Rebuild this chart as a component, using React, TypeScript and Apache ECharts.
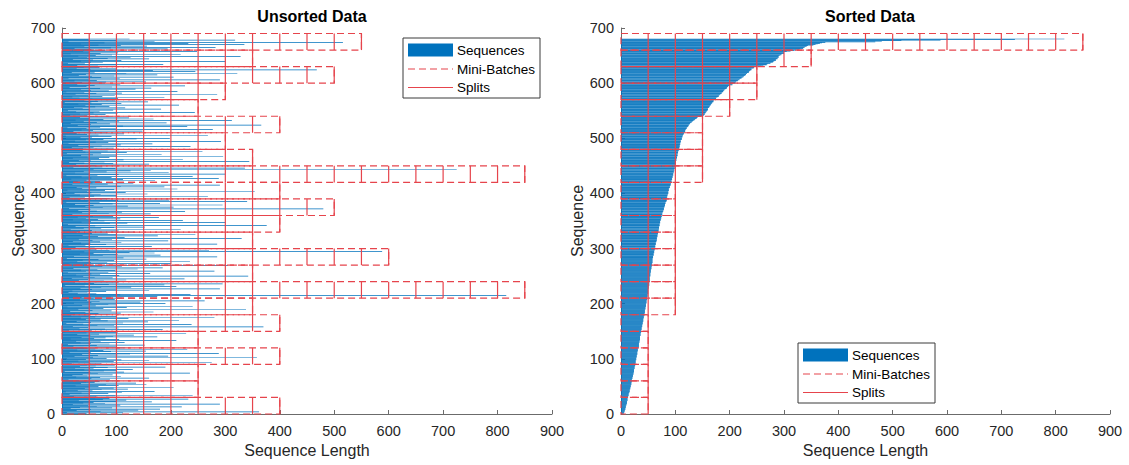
import React, { useEffect, useRef } from "react";
import * as echarts from "echarts";

// Sequence lengths (unsorted), mini-batches of 30, bottom to top
const batch01 = [45, 112, 9, 362, 71, 27, 140, 53, 180, 16, 92, 33, 220, 64, 48, 107, 20, 290, 79, 39, 58, 165, 101, 31, 118, 75, 232, 87, 61, 172];
const batch02 = [63, 22, 98, 240, 14, 51, 85, 36, 110, 7, 170, 56, 29, 73, 121, 42, 95, 205, 50, 67, 25, 104, 155, 81, 35, 136, 60, 44, 69, 103];
const batch03 = [31, 88, 12, 54, 160, 70, 26, 108, 47, 19, 93, 38, 66, 235, 52, 114, 5, 77, 100, 41, 130, 58, 24, 84, 190, 33, 62, 97, 46, 17];
const batch04 = [72, 18, 275, 50, 95, 30, 160, 109, 44, 9, 82, 358, 57, 23, 195, 66, 102, 37, 125, 288, 53, 14, 90, 154, 76, 28, 230, 61, 47, 116];
const batch05 = [40, 99, 21, 64, 152, 11, 87, 53, 34, 115, 71, 26, 210, 49, 105, 16, 59, 80, 36, 175, 94, 52, 132, 28, 68, 228, 45, 102, 6, 74];
const batch06 = [55, 13, 185, 79, 32, 104, 48, 370, 20, 65, 96, 238, 39, 8, 112, 53, 158, 27, 84, 215, 44, 71, 122, 35, 280, 61, 100, 17, 50, 89];
const batch07 = [24, 67, 108, 43, 168, 15, 91, 56, 338, 30, 76, 50, 119, 10, 240, 62, 37, 101, 85, 190, 22, 54, 144, 69, 262, 46, 33, 97, 58, 110];
const batch08 = [36, 90, 175, 52, 816, 107, 236, 63, 29, 12, 47, 81, 19, 160, 99, 55, 290, 34, 72, 127, 210, 42, 6, 188, 86, 295, 59, 24, 104, 68];
const batch09 = [77, 31, 118, 48, 225, 18, 93, 60, 39, 342, 105, 26, 70, 54, 162, 11, 85, 44, 280, 98, 35, 65, 139, 21, 185, 51, 110, 74, 305, 57];
const batch10 = [46, 14, 200, 83, 53, 28, 235, 96, 38, 67, 155, 9, 113, 50, 285, 22, 75, 181, 102, 33, 58, 170, 124, 41, 588, 270, 87, 17, 63, 107];
const batch11 = [60, 25, 97, 165, 43, 12, 81, 285, 52, 35, 109, 70, 20, 195, 56, 92, 31, 330, 48, 115, 7, 66, 176, 38, 101, 245, 55, 84, 27, 133];
const batch12 = [33, 104, 55, 16, 218, 72, 40, 96, 152, 25, 61, 376, 49, 11, 88, 120, 300, 36, 53, 78, 222, 20, 66, 107, 44, 178, 29, 94, 57, 141];
const batch13 = [51, 19, 163, 86, 37, 110, 226, 64, 30, 99, 52, 480, 13, 75, 205, 43, 121, 58, 295, 24, 93, 180, 69, 8, 340, 47, 103, 197, 34, 82];
const batch14 = [88, 42, 14, 268, 59, 101, 33, 71, 157, 23, 54, 117, 46, 354, 79, 10, 96, 212, 37, 63, 27, 188, 108, 50, 290, 19, 84, 131, 56, 68];
const batch15 = [29, 70, 171, 45, 112, 17, 288, 54, 91, 36, 240, 8, 65, 104, 300, 51, 24, 196, 82, 40, 126, 163, 725, 58, 98, 336, 21, 74, 48, 106];
const batch16 = [62, 26, 160, 94, 41, 13, 78, 344, 53, 31, 113, 222, 68, 20, 87, 47, 296, 100, 35, 57, 183, 9, 72, 119, 43, 258, 84, 38, 105, 50];
const batch17 = [39, 95, 18, 58, 236, 73, 30, 108, 49, 166, 12, 85, 62, 292, 24, 101, 44, 76, 137, 198, 34, 55, 91, 7, 268, 67, 46, 114, 27, 52];
const batch18 = [84, 21, 148, 57, 36, 277, 99, 45, 10, 70, 230, 112, 29, 366, 53, 88, 16, 192, 64, 40, 105, 312, 25, 76, 168, 50, 123, 33, 93, 59];
const batch19 = [47, 15, 80, 33, 102, 58, 244, 26, 69, 11, 94, 51, 182, 38, 116, 22, 61, 87, 43, 215, 73, 30, 109, 54, 5, 158, 66, 98, 41, 128];
const batch20 = [56, 103, 32, 188, 19, 74, 48, 97, 285, 25, 63, 110, 41, 8, 212, 86, 53, 35, 135, 70, 164, 14, 92, 45, 226, 60, 28, 107, 50, 79];
const batch21 = [37, 81, 154, 23, 64, 290, 49, 106, 12, 72, 205, 55, 96, 31, 175, 44, 118, 322, 18, 60, 245, 88, 167, 468, 52, 101, 27, 69, 40, 113];
const batch22 = [66, 28, 99, 186, 42, 11, 75, 53, 300, 35, 109, 57, 20, 160, 84, 46, 126, 328, 30, 62, 92, 218, 16, 71, 103, 50, 248, 39, 80, 58];
const batch23 = [54, 194, 23, 90, 282, 41, 156, 108, 67, 335, 35, 232, 78, 516, 12, 170, 100, 318, 49, 124];

const unsortedBatches = [batch01, batch02, batch03, batch04, batch05, batch06, batch07, batch08, batch09, batch10, batch11, batch12,
  batch13, batch14, batch15, batch16, batch17, batch18, batch19, batch20, batch21, batch22, batch23];
const sequenceLengths: number[] = unsortedBatches.flat();
const sortedLengths: number[] = [...sequenceLengths].sort((a, b) => a - b);

// padded length of every mini-batch (bottom to top)
const unsortedPadded = [400, 250, 250, 400, 250, 400, 350, 850, 350, 600, 350, 400, 500, 400, 850, 350, 300, 400, 250, 300, 500, 350, 550];
const sortedPadded = [50, 50, 50, 50, 50, 50, 100, 100, 100, 100, 100, 100, 100, 100, 150, 150, 150, 150, 200, 250, 250, 350, 850];

const miniBatchSize = 30;
const splitLength = 50;
const panelTitles = ["Unsorted Data", "Sorted Data"];
const legendLabels = ["Sequences", "Mini-Batches", "Splits"];
const xAxisTitle = "Sequence Length";
const yAxisTitle = "Sequence";

const BLUE = "#0072BD";
const RED = "#e6444c";
const AXIS = "#6b6b6b";
const TEXT = "#262626";
const FONT = "'Liberation Sans', Arial, Helvetica, sans-serif";

const seqData = (lengths: number[]) => lengths.map((len, i) => [len, i + 1]);
const batchData = (padded: number[]) => padded.map((p, b) => [p, b * miniBatchSize, (b + 1) * miniBatchSize]);
const splitData = (padded: number[]) => {
  const out: number[][] = [];
  padded.forEach((p, b) => {
    for (let x = splitLength; x <= p; x += splitLength) out.push([x, b * miniBatchSize, (b + 1) * miniBatchSize]);
  });
  return out;
};

const barRender = (params: any, api: any) => {
  const len = api.value(0);
  const idx = api.value(1);
  const a = api.coord([0, idx + 0.62]);
  const b = api.coord([len, idx - 0.62]);
  return { type: "rect", shape: { x: a[0], y: a[1], width: b[0] - a[0], height: b[1] - a[1] }, style: { fill: BLUE } };
};
const rectRender = (params: any, api: any) => {
  const a = api.coord([0, api.value(2)]);
  const b = api.coord([api.value(0), api.value(1)]);
  return {
    type: "rect",
    shape: { x: a[0], y: a[1], width: b[0] - a[0], height: b[1] - a[1] },
    style: { fill: "none", stroke: RED, lineWidth: 1.2, lineDash: [7, 4] },
  };
};
const splitRender = (params: any, api: any) => {
  const a = api.coord([api.value(0), api.value(1)]);
  const b = api.coord([api.value(0), api.value(2)]);
  return { type: "line", shape: { x1: a[0], y1: a[1], x2: b[0], y2: b[1] }, style: { stroke: RED, lineWidth: 1.2 } };
};

function legendGraphic(x: number, y: number) {
  const fs = 13.5;
  return {
    type: "group",
    x,
    y,
    z: 100,
    children: [
      { type: "rect", shape: { x: 0, y: 0, width: 137, height: 60 }, style: { fill: "#fff", stroke: "#3a3a3a", lineWidth: 1 } },
      { type: "rect", shape: { x: 5, y: 5.5, width: 45, height: 13 }, style: { fill: BLUE } },
      { type: "line", shape: { x1: 5, y1: 31, x2: 50, y2: 31 }, style: { stroke: RED, lineWidth: 1.2, lineDash: [7, 4] } },
      { type: "line", shape: { x1: 5, y1: 49.5, x2: 50, y2: 49.5 }, style: { stroke: RED, lineWidth: 1.2 } },
      { type: "text", x: 54, y: 12.5, style: { text: legendLabels[0], font: `${fs}px ${FONT}`, fill: "#000", verticalAlign: "middle" } },
      { type: "text", x: 54, y: 31, style: { text: legendLabels[1], font: `${fs}px ${FONT}`, fill: "#000", verticalAlign: "middle" } },
      { type: "text", x: 54, y: 49.5, style: { text: legendLabels[2], font: `${fs}px ${FONT}`, fill: "#000", verticalAlign: "middle" } },
    ],
  };
}

function makeAxes(gridIndex: number) {
  const common = {
    gridIndex,
    axisLine: { show: true, lineStyle: { color: AXIS, width: 1 } },
    axisTick: { show: true, inside: true, length: 4, lineStyle: { color: AXIS } },
    splitLine: { show: false },
    axisLabel: { color: TEXT, fontSize: 14.5, fontFamily: FONT },
    nameTextStyle: { color: TEXT, fontSize: 16, fontFamily: FONT },
    nameLocation: "middle" as const,
  };
  return {
    x: { ...common, type: "value" as const, min: 0, max: 900, interval: 100, name: xAxisTitle, nameGap: 28, axisLabel: { ...common.axisLabel, margin: 9 } },
    y: { ...common, type: "value" as const, min: 0, max: 700, interval: 100, name: yAxisTitle, nameGap: 35, axisLabel: { ...common.axisLabel, margin: 7 } },
  };
}

export default function App() {
  const ref = useRef<HTMLDivElement>(null);
  useEffect(() => {
    if (!ref.current) return;
    const chart = echarts.init(ref.current, undefined, { renderer: "svg" });
    const a0 = makeAxes(0);
    const a1 = makeAxes(1);
    const panels = [
      { lengths: sequenceLengths, padded: unsortedPadded },
      { lengths: sortedLengths, padded: sortedPadded },
    ];
    const series: any[] = [];
    panels.forEach((p, i) => {
      series.push({ type: "custom", name: legendLabels[0], xAxisIndex: i, yAxisIndex: i, data: seqData(p.lengths), renderItem: barRender, silent: true, z: 2 });
      series.push({ type: "custom", name: legendLabels[1], xAxisIndex: i, yAxisIndex: i, data: batchData(p.padded), renderItem: rectRender, silent: true, z: 3 });
      series.push({ type: "custom", name: legendLabels[2], xAxisIndex: i, yAxisIndex: i, data: splitData(p.padded), renderItem: splitRender, silent: true, z: 4 });
    });
    chart.setOption({
      animation: false,
      backgroundColor: "#fff",
      textStyle: { fontFamily: FONT },
      title: [
        { text: panelTitles[0], left: 307, top: 3, textAlign: "center", textStyle: { fontSize: 16, fontWeight: "bold", color: "#000", fontFamily: FONT } },
        { text: panelTitles[1], left: 865, top: 3, textAlign: "center", textStyle: { fontSize: 16, fontWeight: "bold", color: "#000", fontFamily: FONT } },
      ],
      grid: [
        { left: 62, top: 28, width: 490, height: 386 },
        { left: 621, top: 28, width: 489, height: 386 },
      ],
      xAxis: [a0.x, a1.x],
      yAxis: [a0.y, a1.y],
      series,
      graphic: [legendGraphic(403, 38), legendGraphic(798, 343)],
    });
    return () => chart.dispose();
  }, []);
  return <div ref={ref} style={{ position: "fixed", left: 0, top: 0, width: 1129, height: 465, background: "#fff" }} />;
}
